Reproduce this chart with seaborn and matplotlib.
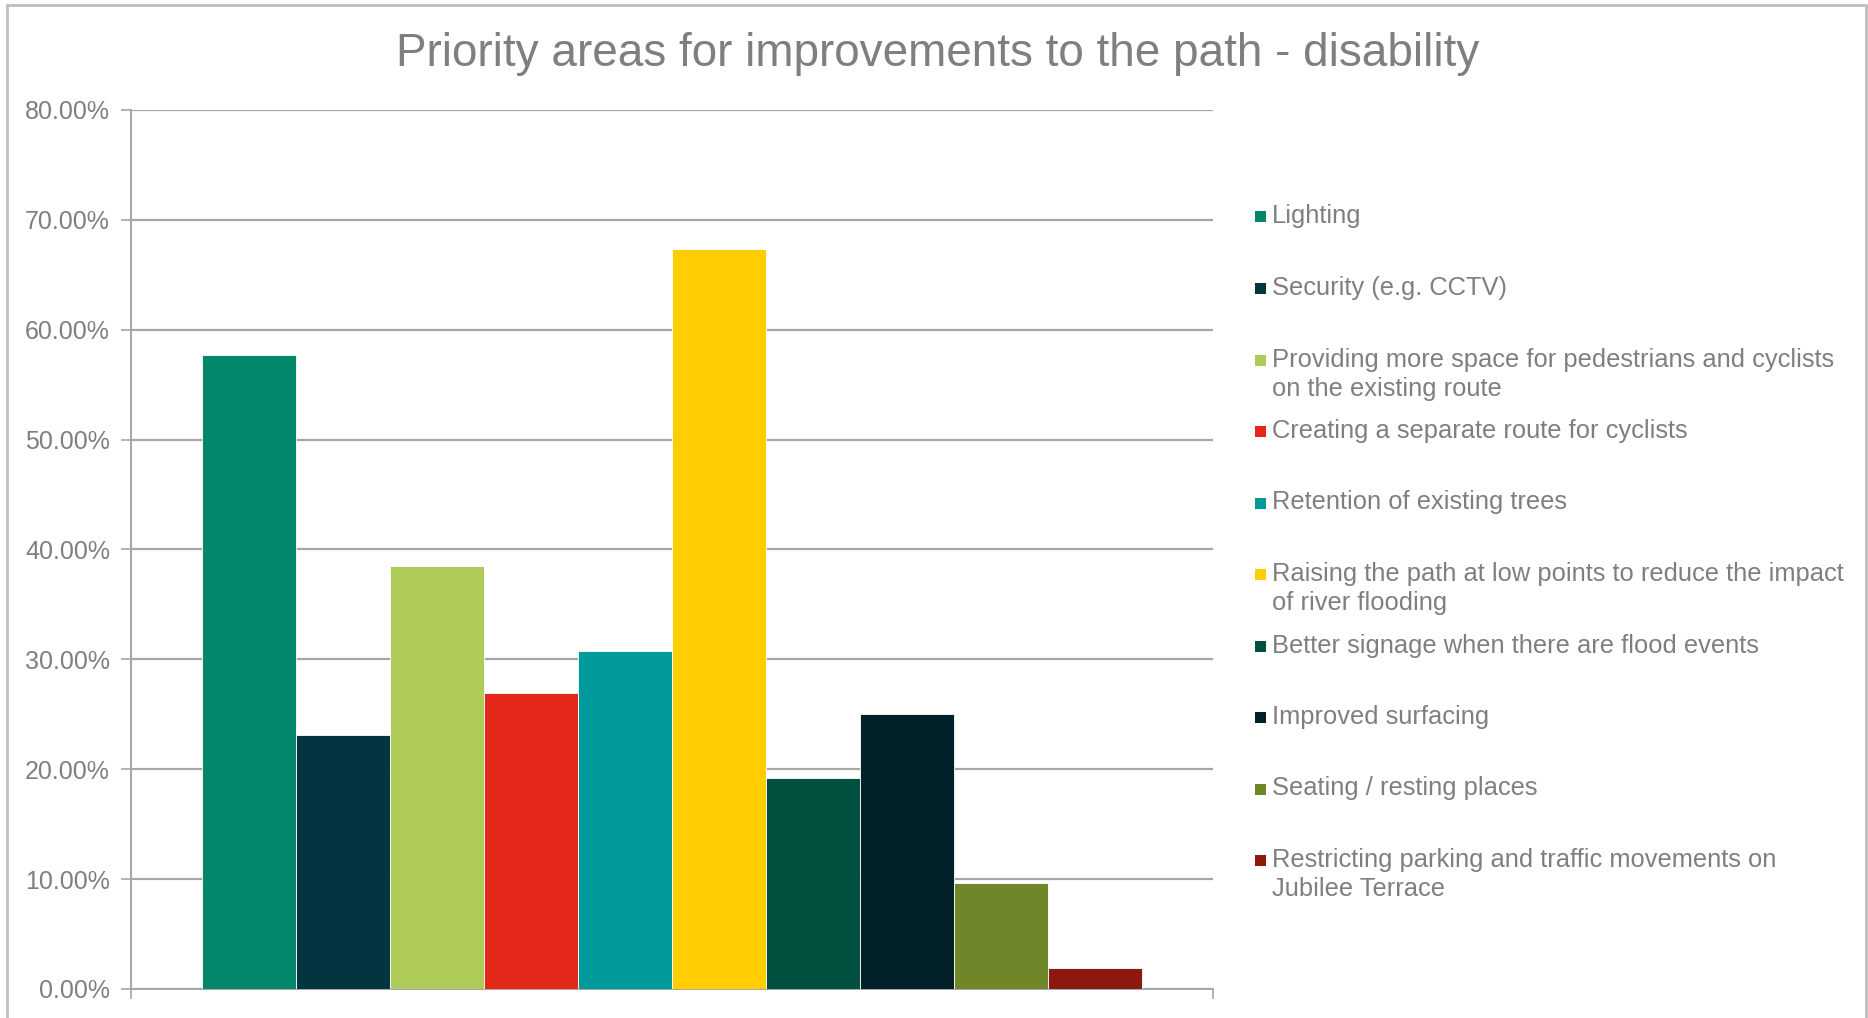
import numpy as np
import pandas as pd
import matplotlib
matplotlib.use('agg')
import matplotlib.pyplot as plt
from matplotlib.patches import Rectangle
from matplotlib.ticker import PercentFormatter
import seaborn as sns

# values (share of respondents, %)
categories = [
    'Lighting',
    'Security (e.g. CCTV)',
    'Providing more space for pedestrians and cyclists\non the existing route',
    'Creating a separate route for cyclists',
    'Retention of existing trees',
    'Raising the path at low points to reduce the impact\nof river flooding',
    'Better signage when there are flood events',
    'Improved surfacing',
    'Seating / resting places',
    'Restricting parking and traffic movements on\nJubilee Terrace',
]
shares = [57.69, 23.08, 38.46, 26.92, 30.77, 67.31, 19.23, 25.00, 9.62, 1.92]
colours = ['#02876A', '#023540', '#AFCB57', '#E32718', '#009A9A',
           '#FFCD00', '#01503F', '#022028', '#6F8729', '#8C1810']

df = pd.DataFrame({'group': 'all', 'area': categories, 'share': shares})

grey = '#7F7F7F'
line_grey = '#A6A6A6'

sns.set_style('white')
plt.rcParams['font.family'] = ['Liberation Sans', 'DejaVu Sans']

fig = plt.figure(figsize=(18.68, 10.18), dpi=100)
ax = fig.add_axes([0.0701, 0.0285, 0.5793, 0.8635])

sns.barplot(data=df, x='group', y='share', hue='area', hue_order=categories,
            palette=colours, saturation=1, width=0.868, dodge=True,
            errorbar=None, edgecolor='white', linewidth=0.6, legend=False,
            ax=ax, zorder=3)

ax.set_ylim(0, 80)
ax.set_xlim(-0.5, 0.5)
ax.set_yticks(np.arange(0, 81, 10))
ax.yaxis.set_major_formatter(PercentFormatter(decimals=2))
ax.yaxis.grid(True, color=line_grey, linewidth=1.6, zorder=0)
ax.set_axisbelow(True)
ax.set_xlabel('')
ax.set_ylabel('')
ax.set_xticks([-0.5, 0.5])
ax.set_xticklabels(['', ''])
ax.tick_params(axis='y', colors=line_grey, labelcolor=grey, labelsize=18,
               length=7, width=1.2, direction='out', left=True, pad=8)
ax.tick_params(axis='x', colors=line_grey, length=7, width=1.2,
               direction='out', bottom=True)
for side in ['top', 'right']:
    ax.spines[side].set_visible(False)
for side in ['left', 'bottom']:
    ax.spines[side].set_color(line_grey)
    ax.spines[side].set_linewidth(1.4)

fig.text(0.502, 0.947, 'Priority areas for improvements to the path - disability',
         ha='center', va='center', fontsize=33, color=grey)

# legend, one row per area, first line aligned with the colour key
W, H = 1868, 1018
y0, step = 216.5, 71.5
for i, (lab, col) in enumerate(zip(categories, colours)):
    yc = y0 + i * step
    fig.patches.append(Rectangle((1255 / W, 1 - (yc + 6) / H), 11 / W, 11 / H,
                                 transform=fig.transFigure, facecolor=col,
                                 edgecolor='none'))
    fig.text(1272 / W, 1 - (yc - 12) / H, lab, ha='left', va='top',
             fontsize=18.4, color=grey, linespacing=1.28)

fig.patches.append(Rectangle((0.004, -0.01), 0.995, 1.005,
                             transform=fig.transFigure, fill=False,
                             edgecolor='#BFBFBF', linewidth=2))

plt.savefig('out.png', dpi=100)
plt.close()
